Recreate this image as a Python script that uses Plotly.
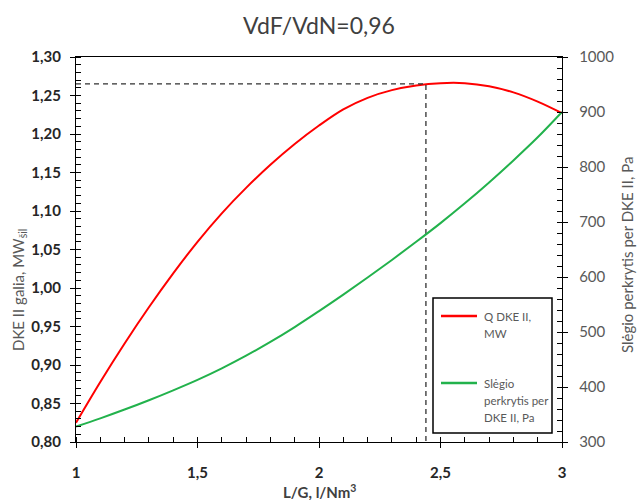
import plotly.graph_objects as go

# L/G ratio, l/Nm3
lg_ratio = [1.0, 1.1, 1.2, 1.3, 1.4, 1.5, 1.6, 1.7, 1.8, 1.9, 2.0,
            2.1, 2.2, 2.3, 2.4, 2.5, 2.6, 2.7, 2.8, 2.9, 3.0]
# Heat output of DKE II, MW
q_dke = [0.825, 0.878, 0.928, 0.975, 1.019, 1.060, 1.097, 1.130, 1.160, 1.187, 1.211,
         1.232, 1.247, 1.257, 1.263, 1.266, 1.266, 1.262, 1.254, 1.242, 1.227]
# Pressure drop across DKE II, Pa
dp_dke = [328, 343, 359, 376, 394, 413, 434, 457, 482, 509, 538,
          568, 599, 631, 664, 698, 734, 772, 812, 854, 900]

# Marked operating point
opt_lg = 2.44
opt_q = 1.265

legend_lines = [["Q DKE II,", "MW"], ["Slėgio", "perkrytis per", "DKE II, Pa"]]
title_text = "VdF/VdN=0,96"
x_title = "<b>L/G, l/Nm<sup>3</sup></b>"
y_title = "DKE II galia, MW<sub>šil</sub>"
y2_title = "Slėgio perkrytis per DKE II, Pa"

FONT = "Lato"
GRAY = "#595959"
DARK = "#262626"
RED = "#FF0000"
GREEN = "#22B24C"
colors = [RED, GREEN]

q_range = [0.80, 1.30]
dp_range = [300, 1000]
lg_range = [1, 3]


# plot area in pixels: left 76, right 562, top 57, bottom 442
def px(xp):
    return (xp - 76) / 486


def py(yp):
    return (442 - yp) / 385


fig = go.Figure()

fig.add_trace(go.Scatter(
    x=lg_ratio, y=q_dke, mode="lines",
    line=dict(color=RED, width=2, shape="spline"),
    showlegend=False, xaxis="x", yaxis="y"))

fig.add_trace(go.Scatter(
    x=lg_ratio, y=dp_dke, mode="lines",
    line=dict(color=GREEN, width=2, shape="spline"),
    showlegend=False, xaxis="x", yaxis="y2"))

# Dashed guide to the operating point
fig.add_trace(go.Scatter(
    x=[lg_ratio[0], opt_lg, opt_lg], y=[opt_q, opt_q, q_range[0]],
    mode="lines", line=dict(color="#303030", width=1.3, dash="5px,4px"),
    showlegend=False, hoverinfo="skip", xaxis="x", yaxis="y"))

axis_line = dict(showline=True, linecolor="#000000", linewidth=1.3,
                 showgrid=False, zeroline=False)
tick_base = dict(tickcolor="#000000", tickwidth=1.3)
minor_in = dict(ticks="inside", ticklen=5, tickcolor="#000000", tickwidth=1.2)

# Legend box drawn as a framed panel
shapes = [dict(type="rect", xref="paper", yref="paper",
               x0=px(433), x1=px(552), y0=py(433), y1=py(298),
               line=dict(color="#000000", width=1.5), fillcolor="white", layer="above")]
annotations = []
item_tops = [316, 383]
for lines, col, y0 in zip(legend_lines, colors, item_tops):
    shapes.append(dict(type="line", xref="paper", yref="paper",
                       x0=px(441), x1=px(477), y0=py(y0), y1=py(y0),
                       line=dict(color=col, width=2.5), layer="above"))
    for k, txt in enumerate(lines):
        annotations.append(dict(text=txt, xref="paper", yref="paper",
                                x=px(482), y=py(y0 + 17 * k),
                                xanchor="left", yanchor="middle", showarrow=False,
                                font=dict(family=FONT, size=11.5, color=GRAY)))

annotations += [
    dict(text=x_title, xref="paper", yref="paper", x=0.5, y=py(491),
         xanchor="center", yanchor="middle", showarrow=False,
         font=dict(family=FONT, size=15, color="#404040")),
    dict(text=y_title, xref="paper", yref="paper", x=px(19), y=py(290),
         xanchor="center", yanchor="middle", textangle=-90, showarrow=False,
         font=dict(family=FONT, size=15, color=GRAY)),
    dict(text=y2_title, xref="paper", yref="paper", x=px(627), y=py(255),
         xanchor="center", yanchor="middle", textangle=-90, showarrow=False,
         font=dict(family=FONT, size=15, color=GRAY)),
]

fig.update_layout(
    width=638, height=500,
    margin=dict(l=76, r=76, t=57, b=58),
    paper_bgcolor="white", plot_bgcolor="white",
    separators=", ",
    font=dict(family=FONT, color=GRAY),
    showlegend=False,
    title=dict(text=title_text, x=0.5, xref="paper", xanchor="center",
               y=1 - 26 / 500, yanchor="middle",
               font=dict(family=FONT, size=23, color="#404040")),
    xaxis=dict(range=lg_range, tickmode="linear", tick0=1, dtick=0.5,
               ticks="outside", ticklen=5,
               minor=dict(tickmode="linear", tick0=1, dtick=0.1, **minor_in),
               tickfont=dict(family=FONT, size=15, color=DARK, weight="bold"),
               ticklabelstandoff=12, mirror=True, layer="above traces",
               **axis_line, **tick_base),
    yaxis=dict(range=q_range, tickmode="linear", tick0=0.8, dtick=0.05,
               tickformat=".2f", ticks="outside", ticklen=5,
               minor=dict(tickmode="linear", tick0=0.8, dtick=0.01, **minor_in),
               tickfont=dict(family=FONT, size=15, color=DARK, weight="bold"),
               ticklabelstandoff=6, layer="above traces", **axis_line, **tick_base),
    yaxis2=dict(range=dp_range, tickmode="linear", tick0=300, dtick=100,
                side="right", overlaying="y", anchor="x", ticks="outside", ticklen=5,
                minor=dict(tickmode="linear", tick0=300, dtick=20, **minor_in),
                tickfont=dict(family=FONT, size=15, color=GRAY),
                ticklabelstandoff=8, layer="above traces", **axis_line, **tick_base),
    shapes=shapes,
    annotations=annotations,
)

fig.write_html("out.html")
